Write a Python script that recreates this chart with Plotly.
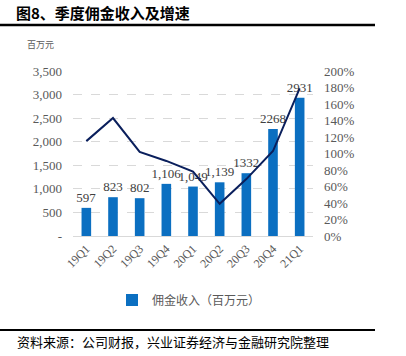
import plotly.graph_objects as go

quarters = ["19Q1", "19Q2", "19Q3", "19Q4", "20Q1", "20Q2", "20Q3", "20Q4", "21Q1"]
commission = [597, 823, 802, 1106, 1049, 1139, 1332, 2268, 2931]
bar_labels = ["597", "823", "802", "1,106", "1,049", "1,139", "1332", "2268", "2931"]
growth = [1.15, 1.43, 1.02, 0.91, 0.78, 0.39, 0.69, 1.03, 1.79]
left_ticks = [0, 500, 1000, 1500, 2000, 2500, 3000, 3500]
left_tick_text = ["-", "500", "1,000", "1,500", "2,000", "2,500", "3,000", "3,500"]

W, H = 406, 356
L, R, T, B = 73, 93, 71, 120
pw, ph = W - L - R, H - T - B

def px(x):
    return (x - L) / pw

def py(y):
    return (H - B - y) / ph

serif = "Liberation Serif, Times New Roman, serif"
cjk = "Noto Sans CJK SC"

fig = go.Figure()
fig.add_trace(go.Bar(
    x=quarters, y=commission, name="佣金收入（百万元）",
    marker=dict(color="#0B6FC1", line=dict(width=0)),
    width=0.36,
    text=bar_labels, textposition="outside", constraintext="none",
    textfont=dict(family=serif, size=13, color="#404040"),
    cliponaxis=False, showlegend=True,
))
fig.add_trace(go.Scatter(
    x=quarters, y=growth, yaxis="y2", mode="lines",
    line=dict(color="#0A1F5C", width=2), showlegend=False,
))

fig.update_layout(
    width=W, height=H,
    margin=dict(l=L, r=R, t=T, b=B),
    paper_bgcolor="white", plot_bgcolor="white",
    font=dict(family=serif, color="#595959"),
    bargap=0.64,
    xaxis=dict(
        tickangle=-45, tickfont=dict(family=serif, size=12, color="#595959"),
        showgrid=False, showline=True, linecolor="#D9D9D9", linewidth=1,
        ticks="", zeroline=False,
    ),
    yaxis=dict(
        range=[0, 3500], tickvals=left_ticks, ticktext=left_tick_text,
        tickfont=dict(family=serif, size=13, color="#595959"),
        showgrid=True, gridcolor="#D9D9D9", griddash="dash", gridwidth=1,
        zeroline=False, showline=False, ticks="", ticklabelstandoff=10,
    ),
    yaxis2=dict(
        range=[0, 2], dtick=0.2, tickformat=".0%", overlaying="y", side="right",
        tickfont=dict(family=serif, size=13, color="#595959"),
        showgrid=False, zeroline=False, showline=False, ticks="",
        ticklabelstandoff=10,
    ),
    legend=dict(
        orientation="h", xanchor="center", yanchor="middle",
        x=px(189), y=py(300),
        font=dict(family=cjk, size=12, color="#595959"),
        bgcolor="rgba(0,0,0,0)",
    ),
    shapes=[
        dict(type="line", xref="paper", yref="paper", x0=px(0), x1=px(375),
             y0=py(25), y1=py(25), line=dict(color="black", width=2.5)),
        dict(type="line", xref="paper", yref="paper", x0=px(0), x1=px(375),
             y0=py(330), y1=py(330), line=dict(color="black", width=2)),
    ],
    annotations=[
        dict(text="<b>图8、季度佣金收入及增速</b>", xref="paper", yref="paper",
             x=px(14), y=py(13), xanchor="left", yanchor="middle", showarrow=False,
             font=dict(family=cjk, size=15, color="black")),
        dict(text="百万元", xref="paper", yref="paper",
             x=px(25), y=py(44), xanchor="left", yanchor="middle", showarrow=False,
             font=dict(family=cjk, size=9, color="#595959")),
        dict(text="资料来源：公司财报，兴业证券经济与金融研究院整理", xref="paper", yref="paper",
             x=px(15), y=py(341), xanchor="left", yanchor="middle", showarrow=False,
             font=dict(family=cjk, size=13, color="black")),
    ],
)

fig.write_html(
    "out.html",
    config={"displayModeBar": False},
    post_script="document.body.style.margin='0';document.body.style.overflow='hidden';",
)
